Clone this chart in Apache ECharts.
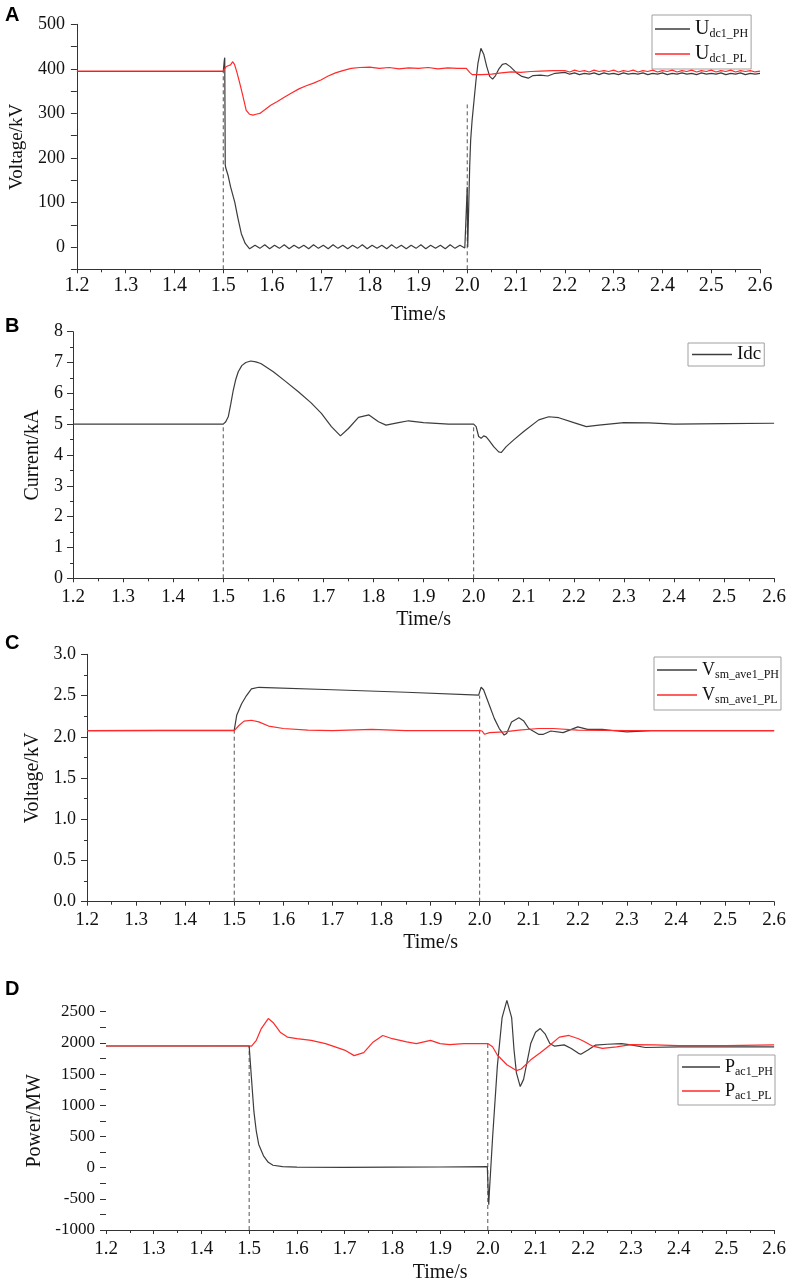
<!DOCTYPE html>
<html>
<head>
<meta charset="utf-8">
<script src="https://cdn.jsdelivr.net/npm/echarts@6/dist/echarts.min.js"></script>
<style>
html, body { margin: 0; padding: 0; background: #fff; }
#chart { width: 789px; height: 1284px; }
</style>
</head>
<body>
<div id="chart"></div>
<script>
// ---- panel A: DC voltage ----
const tUdcPH = [1.2, 1.3, 1.4, 1.5, 1.502, 1.503, 1.504, 1.505, 1.51, 1.515, 1.5235, 1.53, 1.537, 1.545, 1.554,
  1.565, 1.575, 1.585, 1.595, 1.605, 1.615, 1.625, 1.635, 1.645, 1.655, 1.665, 1.675, 1.685, 1.695, 1.705, 1.715,
  1.725, 1.735, 1.745, 1.755, 1.765, 1.775, 1.785, 1.795, 1.805, 1.815, 1.825, 1.835, 1.845, 1.855, 1.865, 1.875,
  1.885, 1.895, 1.905, 1.915, 1.925, 1.935, 1.945, 1.955, 1.965, 1.975, 1.985, 1.995,
  1.999, 2.0, 2.001, 2.003, 2.005, 2.007, 2.01, 2.014, 2.018, 2.022, 2.028, 2.034, 2.04, 2.046, 2.052, 2.058,
  2.065, 2.072, 2.079, 2.088, 2.1, 2.112, 2.125, 2.135, 2.15, 2.165, 2.18, 2.2,
  2.21, 2.22, 2.23, 2.24, 2.25, 2.26, 2.27, 2.28, 2.29, 2.3, 2.31, 2.32, 2.33, 2.34, 2.35, 2.36, 2.37, 2.38, 2.39, 2.4,
  2.41, 2.42, 2.43, 2.44, 2.45, 2.46, 2.47, 2.48, 2.49, 2.5, 2.51, 2.52, 2.53, 2.54, 2.55, 2.56, 2.57, 2.58, 2.59, 2.6];
const udcPH = [394, 394, 394, 394, 418, 425, 185, 178, 160, 135, 101, 65, 30, 8, -4,
  4, -3, 5, -4, 4, -3, 5, -4, 4, -3, 4, -4, 5, -3, 4, -4, 5, -3, 4, -4, 4, -3, 5, -4, 4, -3, 4, -4, 5, -3, 4, -4,
  4, -3, 5, -4, 4, -3, 4, -4, 5, -3, 4, -2,
  0, 135, 0, 2, 180, 240, 285, 330, 375, 413, 446, 432, 405, 383, 377, 385,
  400, 410, 412, 405, 392, 383, 379, 385, 386, 384, 390, 392,
  388, 391, 387, 390, 388, 391, 387, 391, 388, 390, 387, 391, 388, 390, 388, 391, 387, 390, 388, 391,
  387, 390, 388, 391, 388, 390, 387, 391, 388, 390, 388, 391, 387, 390, 388, 391, 387, 390, 388, 390];
const tUdcPL = [1.2, 1.25, 1.3, 1.35, 1.4, 1.45, 1.5, 1.505, 1.51, 1.515, 1.519, 1.523, 1.528, 1.534, 1.54, 1.547,
  1.554, 1.561, 1.567, 1.575, 1.585, 1.598, 1.61, 1.625, 1.639, 1.655, 1.67, 1.685, 1.7, 1.715, 1.73, 1.745, 1.762,
  1.78, 1.8, 1.82, 1.84, 1.86, 1.88, 1.9, 1.92, 1.94, 1.96, 1.98, 1.998, 2.005, 2.01, 2.03, 2.05, 2.07, 2.09, 2.11,
  2.13, 2.15, 2.175,
  2.2, 2.21, 2.22, 2.23, 2.24, 2.25, 2.26, 2.27, 2.28, 2.29, 2.3, 2.31, 2.32, 2.33, 2.34, 2.35, 2.36, 2.37, 2.38, 2.39,
  2.4, 2.41, 2.42, 2.43, 2.44, 2.45, 2.46, 2.47, 2.48, 2.49, 2.5, 2.51, 2.52, 2.53, 2.54, 2.55, 2.56, 2.57, 2.58, 2.59, 2.6];
const udcPL = [395, 395, 395, 395, 395, 395, 395, 404, 407, 409, 416, 410, 392, 367, 340, 307,
  298, 296, 298, 300, 308, 319, 326, 336, 345, 355, 362, 368, 375, 384, 391, 396, 401,
  403, 404, 401, 403, 400, 402, 401, 403, 400, 402, 401, 401, 392, 387, 387, 388, 391, 393, 392,
  394, 395, 396,
  396, 393, 397, 394, 396, 393, 397, 394, 396, 394, 397, 393, 396, 394, 397, 393, 396, 394, 397, 393,
  396, 394, 397, 393, 396, 394, 397, 393, 396, 394, 397, 393, 396, 394, 397, 393, 396, 394, 396, 393, 395];

// ---- panel B: DC current ----
const tIdc = [1.2, 1.5, 1.505, 1.51, 1.515, 1.52, 1.525, 1.53, 1.537, 1.545, 1.555, 1.565, 1.575, 1.6, 1.625,
  1.65, 1.675, 1.696, 1.716, 1.734, 1.75, 1.77, 1.791, 1.81, 1.825, 1.85, 1.87, 1.9, 1.95, 2.0, 2.005, 2.01, 2.015,
  2.02, 2.025, 2.03, 2.04, 2.05, 2.055, 2.065, 2.08, 2.1, 2.13, 2.15, 2.17, 2.2, 2.225, 2.25, 2.3, 2.35, 2.4, 2.5, 2.6];
const idc = [5.0, 5.0, 5.08, 5.24, 5.65, 6.1, 6.45, 6.7, 6.9, 7.0, 7.05, 7.02, 6.97, 6.7, 6.38,
  6.05, 5.7, 5.35, 4.92, 4.62, 4.86, 5.22, 5.3, 5.08, 4.97, 5.05, 5.11, 5.05, 5.0, 5.0, 4.92, 4.6, 4.54,
  4.62, 4.59, 4.49, 4.27, 4.1, 4.08, 4.27, 4.49, 4.76, 5.14, 5.24, 5.21, 5.05, 4.92, 4.97, 5.05, 5.04, 5.0, 5.02, 5.03];

// ---- panel C: submodule average voltage ----
const tVsmPH = [1.2, 1.5, 1.505, 1.51, 1.515, 1.525, 1.535, 1.55, 1.7, 1.85, 1.998, 2.0, 2.003, 2.008, 2.02, 2.03,
  2.04, 2.05, 2.055, 2.065, 2.08, 2.09, 2.1, 2.12, 2.13, 2.145, 2.17, 2.2, 2.22, 2.25, 2.28, 2.3, 2.35, 2.6];
const vsmPH = [2.075, 2.08, 2.26, 2.33, 2.40, 2.5, 2.58, 2.6, 2.57, 2.54, 2.505, 2.51, 2.6, 2.57, 2.38, 2.22,
  2.1, 2.02, 2.04, 2.18, 2.23, 2.19, 2.1, 2.03, 2.03, 2.07, 2.05, 2.12, 2.09, 2.09, 2.07, 2.06, 2.075, 2.075];
const tVsmPL = [1.2, 1.5, 1.51, 1.52, 1.535, 1.55, 1.57, 1.6, 1.65, 1.7, 1.78, 1.85, 2.0, 2.005, 2.01, 2.02, 2.05,
  2.08, 2.12, 2.15, 2.2, 2.3, 2.6];
const vsmPL = [2.075, 2.075, 2.14, 2.19, 2.2, 2.18, 2.13, 2.1, 2.08, 2.075, 2.09, 2.075, 2.075, 2.07, 2.03, 2.05, 2.06,
  2.08, 2.1, 2.1, 2.08, 2.075, 2.075];

// ---- panel D: AC power ----
const tPacPH = [1.2, 1.5, 1.503, 1.507, 1.51, 1.515, 1.52, 1.53, 1.54, 1.55, 1.57, 1.6, 1.7, 1.8, 1.9, 1.999,
  2.0005, 2.002, 2.004, 2.006, 2.01, 2.02, 2.03, 2.04, 2.05, 2.055, 2.06, 2.068, 2.075, 2.09, 2.1, 2.11, 2.12,
  2.13, 2.14, 2.16, 2.175, 2.19, 2.195, 2.21, 2.225, 2.25, 2.28, 2.3, 2.33, 2.4, 2.5, 2.6];
const pacPH = [1950, 1950, 1624, 1200, 893, 580, 372, 189, 85, 38, 17, 7, 5, 7, 10, 17,
  -300, -593, -300, -45, 476, 1624, 2406, 2683, 2406, 1885, 1519, 1300, 1415, 1989, 2171, 2229, 2145,
  1989, 1947, 1968, 1911, 1832, 1817, 1885, 1963, 1978, 1989, 1968, 1926, 1937, 1937, 1937];
const tPacPL = [1.2, 1.5, 1.505, 1.515, 1.525, 1.54, 1.55, 1.565, 1.58, 1.6, 1.63, 1.66, 1.7, 1.72, 1.74, 1.76,
  1.78, 1.8, 1.83, 1.85, 1.88, 1.9, 1.92, 1.95, 1.98, 2.0, 2.01, 2.02, 2.04, 2.06, 2.07, 2.09, 2.11, 2.13, 2.15,
  2.17, 2.19, 2.2, 2.22, 2.24, 2.27, 2.3, 2.35, 2.4, 2.5, 2.6];
const pacPL = [1950, 1952, 1947, 2041, 2224, 2390, 2328, 2171, 2093, 2067, 2041, 1989, 1885, 1796, 1843, 2015,
  2119, 2067, 2015, 1989, 2041, 1989, 1973, 1989, 1989, 1989, 1937, 1806, 1650, 1556, 1582, 1728, 1843, 1963, 2093,
  2119, 2067, 2031, 1947, 1911, 1937, 1973, 1968, 1957, 1957, 1968];

// fault / recovery instants and top ends of the dashed markers
const eventTimes = [1.5, 2.0];
const dashTopA = [395, 320];
const dashTopB = [5.0, 5.0];
const dashTopC = [2.07, 2.5];
const dashTopD = [1950, 2000];

// axis ranges [min, max, interval]
const timeRange = [1.2, 2.6, 0.1];
const yRangeA = [-50, 500, 50];
const yRangeB = [0, 8, 1];
const yRangeC = [0, 3, 0.5];
const yRangeD = [-1000, 2500, 250];

const SERIF = '"Liberation Serif", "DejaVu Serif", serif';
const INK = '#111';
const AXIS = '#333';
const DARK = '#3c3c3c';
const RED = '#ff2a2a';

const chart = echarts.init(document.getElementById('chart'));

const zip = (t, v) => t.map((x, i) => [x, v[i]]);

const xAxisFor = (i, fs, margin, gap) => ({
    type: 'value', gridIndex: i,
    min: timeRange[0], max: timeRange[1], interval: timeRange[2],
    name: 'Time/s', nameLocation: 'middle', nameGap: gap,
    nameTextStyle: { fontFamily: SERIF, fontSize: 20, color: INK },
    axisLine: { onZero: false, lineStyle: { color: AXIS, width: 1 } },
    axisTick: { length: 4, lineStyle: { color: AXIS } },
    minorTick: { show: true, splitNumber: 2, length: 3, lineStyle: { color: AXIS } },
    axisLabel: { fontFamily: SERIF, fontSize: fs, color: INK, margin: margin, formatter: v => v.toFixed(1) },
    splitLine: { show: false }
})

const yAxisFor = (i, range, opts) => ({
    type: 'value', gridIndex: i,
    min: range[0], max: range[1], interval: range[2],
    name: opts.name, nameLocation: 'middle', nameGap: opts.gap,
    nameTextStyle: { fontFamily: SERIF, fontSize: opts.nameSize, color: INK },
    axisLine: { show: opts.line !== false, onZero: false, lineStyle: { color: AXIS, width: 1 } },
    axisTick: { show: true, length: 6, lineStyle: { color: AXIS } },
    minorTick: { show: !!opts.minor, splitNumber: 2, length: 3, lineStyle: { color: AXIS } },
    axisLabel: { fontFamily: SERIF, fontSize: opts.fs, color: INK, margin: opts.margin, formatter: opts.fmt },
    splitLine: { show: false }
})

const curve = (name, i, t, v, color, z) => ({
    name, type: 'line', xAxisIndex: i, yAxisIndex: i,
    data: zip(t, v), symbol: 'none', showSymbol: false, clip: false,
    color: color, lineStyle: { color: color, width: 1.2 }, z: z
})

const dashes = (i, tops, bottom) => eventTimes.map((t, k) => ({
    type: 'line', xAxisIndex: i, yAxisIndex: i, silent: true,
    data: [[t, bottom], [t, tops[k]]], symbol: 'none', z: 1,
    lineStyle: { color: '#555', width: 1, type: [4, 3] }
}))

// legend labels: main letter + subscript
const legendParts = {
    Udc1_PH: ['U', 'dc1_PH'], Udc1_PL: ['U', 'dc1_PL'], Idc: ['Idc', ''],
    Vsm_PH: ['V', 'sm_ave1_PH'], Vsm_PL: ['V', 'sm_ave1_PL'],
    Pac1_PH: ['P', 'ac1_PH'], Pac1_PL: ['P', 'ac1_PL']
};

const legendFor = (names, left, top, lineW, gap, pad, main) => ({
    data: names, left: left, top: top, orient: 'vertical', selectedMode: false,
    icon: 'rect', itemWidth: lineW, itemHeight: 1.5, itemGap: gap, padding: pad,
    borderColor: '#a0a0a0', borderWidth: 1, borderRadius: 0,
    formatter: n => {
        const p = legendParts[n]
        return p[1] ? '{m|' + p[0] + '}{s|' + p[1] + '}' : '{m|' + p[0] + '}'
    },
    textStyle: {
        fontFamily: SERIF, color: INK,
        rich: {
            m: { fontFamily: SERIF, fontSize: main, color: INK },
            s: { fontFamily: SERIF, fontSize: 12, color: INK, padding: [10, 0, 0, 0] }
        }
    }
})

const title = (txt, top) => ({
    text: txt, left: 0, top: top,
    textStyle: { fontFamily: '"Liberation Sans", Arial, sans-serif', fontWeight: 'bold', fontSize: 20, color: '#000' }
})

const option = {
    animation: false,
    backgroundColor: '#fff',
    title: [title('A', 0), title('B', 311), title('C', 628), title('D', 974)],
    grid: [
        { left: 75, top: 24.3, width: 685, height: 245 },
        { left: 73, top: 331.7, width: 703.6, height: 246.6 },
        { left: 87, top: 654.3, width: 689.5, height: 247.4 },
        { left: 106, top: 1011.7, width: 671.5, height: 221.6 }
    ],
    xAxis: [
        xAxisFor(0, 20, 6, 35),
        xAxisFor(1, 19, 9, 31),
        xAxisFor(2, 19, 9, 31),
        xAxisFor(3, 19, 10, 33)
    ],
    yAxis: [
        yAxisFor(0, yRangeA, { name: 'Voltage/kV', gap: 46, nameSize: 19, fs: 18, margin: 12,
            fmt: v => (v % 100 === 0 ? String(v) : '') }),
        yAxisFor(1, yRangeB, { name: 'Current/kA', gap: 25, nameSize: 20, fs: 18, margin: 10, minor: true,
            fmt: v => String(v) }),
        yAxisFor(2, yRangeC, { name: 'Voltage/kV', gap: 39, nameSize: 20, fs: 18, margin: 11, minor: true,
            fmt: v => v.toFixed(1) }),
        yAxisFor(3, yRangeD, { name: 'Power/MW', gap: 61, nameSize: 20, fs: 17, margin: 11, line: false,
            fmt: v => (v % 500 === 0 ? String(v) : '') })
    ],
    legend: [
        legendFor(['Udc1_PH', 'Udc1_PL'], 652, 15, 35, 4, [4, 3, 4, 3], 20),
        legendFor(['Idc'], 688, 343, 40, 4, [2, 3, 2, 4], 19),
        legendFor(['Vsm_PH', 'Vsm_PL'], 654, 657, 40, 5, [4, 2, 4, 3], 18),
        legendFor(['Pac1_PH', 'Pac1_PL'], 678, 1055, 38, 4, [3, 2, 3, 4], 18)
    ],
    series: [
        ...dashes(0, dashTopA, yRangeA[0]),
        curve('Udc1_PH', 0, tUdcPH, udcPH, DARK, 2),
        curve('Udc1_PL', 0, tUdcPL, udcPL, RED, 5),
        ...dashes(1, dashTopB, yRangeB[0]),
        curve('Idc', 1, tIdc, idc, DARK, 2),
        ...dashes(2, dashTopC, yRangeC[0]),
        curve('Vsm_PH', 2, tVsmPH, vsmPH, DARK, 2),
        curve('Vsm_PL', 2, tVsmPL, vsmPL, RED, 5),
        ...dashes(3, dashTopD, yRangeD[0]),
        curve('Pac1_PH', 3, tPacPH, pacPH, DARK, 2),
        curve('Pac1_PL', 3, tPacPL, pacPL, RED, 5)
    ]
};

chart.setOption(option);
</script>
</body>
</html>
